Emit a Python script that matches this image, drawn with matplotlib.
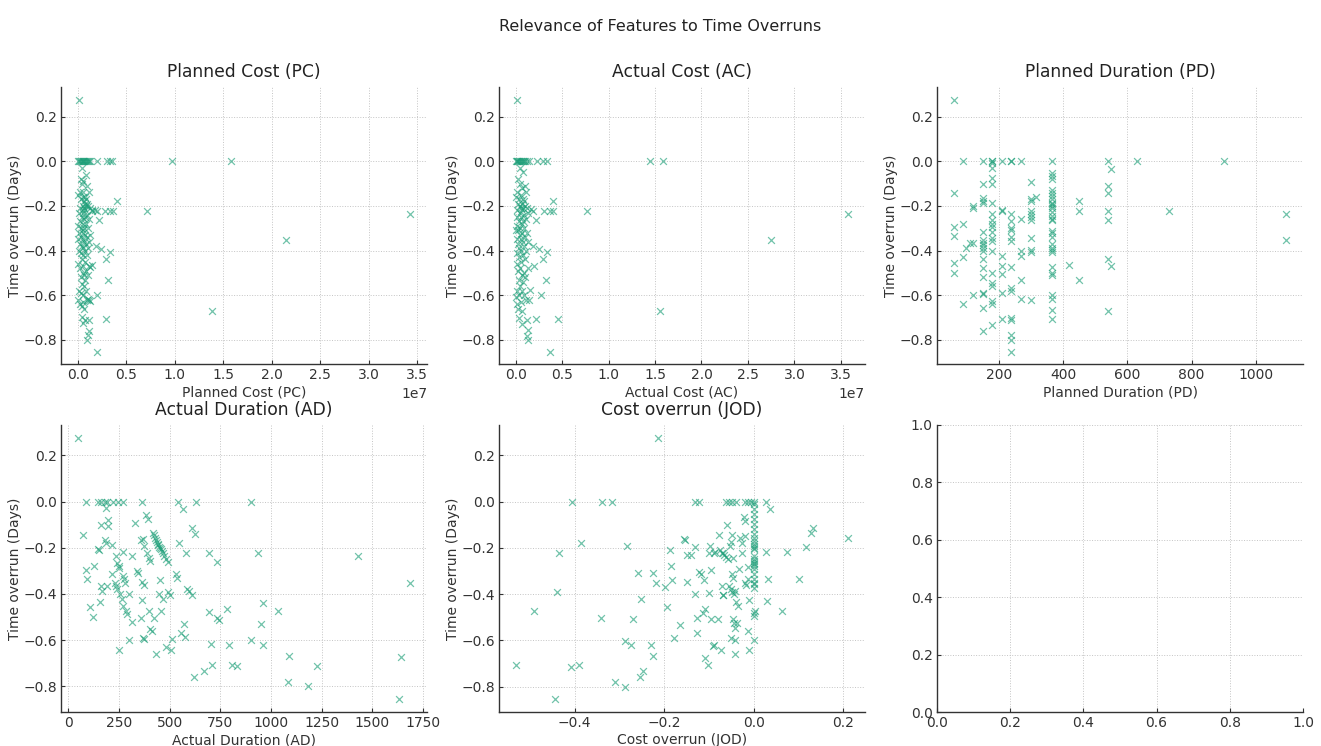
import matplotlib
matplotlib.use("Agg")
import matplotlib.pyplot as plt

# ---------------- data ----------------
suptitle = "Relevance of Features to Time Overruns"
panel_titles = ["Planned Cost (PC)", "Actual Cost (AC)", "Planned Duration (PD)",
                "Actual Duration (AD)", "Cost overrun (JOD)"]
y_label = "Time overrun (Days)"

# Planned Cost (PC) vs time overrun
pc_points = [
    (0.017e7, 0.276),
    (0.00e7, 0), (0.01e7, 0), (0.02e7, 0), (0.03e7, 0), (0.04e7, 0), (0.05e7, 0), (0.06e7, 0),
    (0.07e7, 0), (0.08e7, 0), (0.09e7, 0), (0.10e7, 0), (0.11e7, 0), (0.12e7, 0), (0.13e7, 0),
    (0.20e7, 0), (0.30e7, 0), (0.33e7, 0), (0.35e7, 0), (0.97e7, 0), (1.58e7, 0),
    (0.405e7, -0.178), (0.718e7, -0.222), (3.43e7, -0.238), (2.15e7, -0.352), (1.38e7, -0.673),
    (0.20e7, -0.853), (0.289e7, -0.708), (0.31e7, -0.53), (0.296e7, -0.44), (0.33e7, -0.406),
    (0.244e7, -0.393), (0.19e7, -0.381), (0.223e7, -0.263), (0.20e7, -0.222), (0.28e7, -0.222),
    (0.33e7, -0.222), (0.364e7, -0.222), (0.175e7, -0.22), (0.148e7, -0.222), (0.20e7, -0.60),
    (0.103e7, -0.777), (0.113e7, -0.76), (0.096e7, -0.80), (0.08e7, -0.712), (0.113e7, -0.709),
    (0.055e7, -0.726), (0.045e7, -0.698), (0.124e7, -0.625), (0.103e7, -0.618), (0.148e7, -0.466),
    (0.13e7, -0.474),
    (0.04e7, -0.03), (0.09e7, -0.06), (0.03e7, -0.08), (0.06e7, -0.09), (0.04e7, -0.10),
    (0.10e7, -0.11), (0.02e7, -0.14), (0.06e7, -0.14), (0.12e7, -0.14), (0.00e7, -0.15),
    (0.05e7, -0.16), (0.08e7, -0.16), (0.09e7, -0.17), (0.03e7, -0.17), (0.07e7, -0.18),
    (0.08e7, -0.19), (0.10e7, -0.19), (0.06e7, -0.20), (0.09e7, -0.20), (0.11e7, -0.20),
    (0.02e7, -0.21), (0.07e7, -0.21), (0.13e7, -0.21), (0.05e7, -0.22), (0.08e7, -0.22),
    (0.15e7, -0.22), (0.01e7, -0.23), (0.06e7, -0.23), (0.10e7, -0.24), (0.04e7, -0.25),
    (0.08e7, -0.25), (0.07e7, -0.26), (0.12e7, -0.26), (0.02e7, -0.27), (0.05e7, -0.28),
    (0.09e7, -0.28), (0.00e7, -0.29), (0.03e7, -0.30), (0.07e7, -0.30), (0.11e7, -0.30),
    (0.05e7, -0.31), (0.01e7, -0.32), (0.06e7, -0.32), (0.08e7, -0.33), (0.13e7, -0.33),
    (0.03e7, -0.34), (0.10e7, -0.34), (0.00e7, -0.35), (0.05e7, -0.35), (0.07e7, -0.36),
    (0.12e7, -0.36), (0.02e7, -0.37), (0.09e7, -0.37), (0.04e7, -0.38), (0.06e7, -0.39),
    (0.11e7, -0.39), (0.01e7, -0.40), (0.08e7, -0.40), (0.03e7, -0.41), (0.06e7, -0.42),
    (0.10e7, -0.42), (0.04e7, -0.44), (0.08e7, -0.45), (0.00e7, -0.46), (0.05e7, -0.47),
    (0.12e7, -0.47), (0.02e7, -0.48), (0.09e7, -0.49), (0.06e7, -0.50), (0.07e7, -0.51),
    (0.11e7, -0.51), (0.03e7, -0.52), (0.08e7, -0.53), (0.04e7, -0.55), (0.07e7, -0.56),
    (0.01e7, -0.58), (0.09e7, -0.58), (0.03e7, -0.59), (0.06e7, -0.60), (0.00e7, -0.62),
    (0.05e7, -0.63), (0.10e7, -0.62), (0.02e7, -0.64), (0.04e7, -0.65), (0.07e7, -0.66),
    (0.12e7, -0.62),
]

# Actual Cost (AC) vs time overrun
ac_points = [
    (0.014e7, 0.276),
    (0.00e7, 0), (0.01e7, 0), (0.02e7, 0), (0.03e7, 0), (0.04e7, 0), (0.05e7, 0), (0.06e7, 0),
    (0.07e7, 0), (0.08e7, 0), (0.09e7, 0), (0.10e7, 0), (0.12e7, 0), (0.14e7, 0), (0.23e7, 0),
    (0.30e7, 0), (0.34e7, 0), (1.446e7, 0), (1.59e7, 0),
    (0.40e7, -0.178), (0.31e7, -0.222), (0.37e7, -0.222), (0.40e7, -0.222), (0.17e7, -0.215),
    (0.19e7, -0.225), (0.22e7, -0.264), (0.77e7, -0.222), (3.58e7, -0.238), (2.75e7, -0.352),
    (1.55e7, -0.673), (0.37e7, -0.853), (0.457e7, -0.708), (0.223e7, -0.705), (0.324e7, -0.53),
    (0.30e7, -0.44), (0.338e7, -0.406), (0.248e7, -0.393), (0.187e7, -0.381), (0.27e7, -0.60),
    (0.20e7, -0.468), (0.15e7, -0.575), (0.144e7, -0.62), (0.12e7, -0.712), (0.133e7, -0.755),
    (0.12e7, -0.784), (0.133e7, -0.80), (0.04e7, -0.70), (0.07e7, -0.73), (0.02e7, -0.64),
    (0.05e7, -0.03), (0.08e7, -0.05), (0.03e7, -0.08), (0.05e7, -0.10), (0.07e7, -0.12),
    (0.10e7, -0.11), (0.01e7, -0.14), (0.06e7, -0.15), (0.11e7, -0.14), (0.00e7, -0.16),
    (0.04e7, -0.17), (0.08e7, -0.17), (0.09e7, -0.18), (0.03e7, -0.19), (0.07e7, -0.19),
    (0.05e7, -0.20), (0.10e7, -0.20), (0.06e7, -0.21), (0.08e7, -0.21), (0.12e7, -0.21),
    (0.02e7, -0.22), (0.07e7, -0.22), (0.13e7, -0.23), (0.05e7, -0.23), (0.09e7, -0.24),
    (0.01e7, -0.25), (0.06e7, -0.25), (0.11e7, -0.26), (0.04e7, -0.27), (0.08e7, -0.27),
    (0.07e7, -0.28), (0.02e7, -0.29), (0.05e7, -0.30), (0.09e7, -0.30), (0.00e7, -0.31),
    (0.03e7, -0.31), (0.07e7, -0.32), (0.12e7, -0.32), (0.05e7, -0.33), (0.10e7, -0.34),
    (0.01e7, -0.35), (0.06e7, -0.35), (0.08e7, -0.36), (0.13e7, -0.36), (0.03e7, -0.37),
    (0.09e7, -0.38), (0.04e7, -0.39), (0.06e7, -0.40), (0.11e7, -0.40), (0.02e7, -0.41),
    (0.08e7, -0.42), (0.04e7, -0.43), (0.06e7, -0.45), (0.10e7, -0.44), (0.01e7, -0.46),
    (0.05e7, -0.48), (0.13e7, -0.48), (0.03e7, -0.49), (0.09e7, -0.50), (0.07e7, -0.51),
    (0.10e7, -0.52), (0.04e7, -0.53), (0.08e7, -0.54), (0.05e7, -0.56), (0.02e7, -0.58),
    (0.07e7, -0.58), (0.09e7, -0.60), (0.04e7, -0.60), (0.00e7, -0.61), (0.06e7, -0.63),
    (0.11e7, -0.62), (0.03e7, -0.66), (0.07e7, -0.67),
]

# Planned Duration (PD) vs time overrun
pd_points = [
    (60, 0.276), (60, -0.143), (60, -0.295), (60, -0.334), (60, -0.456), (60, -0.50),
    (90, 0), (90, -0.28), (90, -0.429), (90, -0.64), (100, -0.39), (110, -0.365),
    (120, -0.202), (120, -0.21), (120, -0.368), (120, -0.598),
    (150, 0), (150, -0.103), (150, -0.166), (150, -0.178), (150, -0.186), (150, -0.315),
    (150, -0.351), (150, -0.365), (150, -0.377), (150, -0.387), (150, -0.401), (150, -0.437),
    (150, -0.478), (150, -0.52), (150, -0.589), (150, -0.595), (150, -0.657), (150, -0.76),
    (180, 0), (180, 0), (180, -0.01), (180, -0.03), (180, -0.077), (180, -0.104), (180, -0.185),
    (180, -0.235), (180, -0.264), (180, -0.28), (180, -0.293), (180, -0.315), (180, -0.344),
    (180, -0.358), (180, -0.401), (180, -0.50), (180, -0.546), (180, -0.557), (180, -0.625),
    (180, -0.64), (180, -0.733),
    (210, 0), (210, -0.218), (210, -0.225), (210, -0.426), (210, -0.471), (210, -0.503),
    (210, -0.59), (210, -0.706),
    (240, 0), (240, 0), (240, -0.235), (240, -0.27), (240, -0.30), (240, -0.31), (240, -0.34),
    (240, -0.358), (240, -0.475), (240, -0.566), (240, -0.583), (240, -0.70), (240, -0.713),
    (240, -0.78), (240, -0.80), (240, -0.853),
    (270, 0), (270, -0.261), (270, -0.401), (270, -0.423), (270, -0.53), (270, -0.618),
    (300, -0.092), (300, -0.17), (300, -0.179), (300, -0.221), (300, -0.235), (300, -0.25),
    (300, -0.263), (300, -0.344), (300, -0.397), (300, -0.408), (300, -0.621), (315, -0.16),
    (365, 0), (365, -0.052), (365, -0.066), (365, -0.081), (365, -0.13), (365, -0.144),
    (365, -0.156), (365, -0.17), (365, -0.185), (365, -0.192), (365, -0.199), (365, -0.211),
    (365, -0.228), (365, -0.245), (365, -0.257), (365, -0.264), (365, -0.312), (365, -0.322),
    (365, -0.34), (365, -0.373), (365, -0.387), (365, -0.399), (365, -0.408), (365, -0.476),
    (365, -0.50), (365, -0.51), (365, -0.598), (365, -0.618), (365, -0.667), (365, -0.708),
    (420, -0.464), (450, -0.178), (450, -0.225), (450, -0.53),
    (540, 0), (540, -0.113), (540, -0.142), (540, -0.225), (540, -0.264), (540, -0.439),
    (540, -0.673), (550, -0.035), (550, -0.471), (630, 0), (731, -0.222), (900, 0),
    (1095, -0.238), (1095, -0.352),
]

# Actual Duration (AD) vs time overrun
ad_points = [
    (46, 0.275), (71, -0.143), (87, 0), (86, -0.295), (90, -0.336), (109, -0.456), (120, -0.502),
    (125, -0.279), (145, 0), (161, 0), (181, 0), (193, 0), (219, 0), (247, 0), (272, 0),
    (186, -0.027), (161, -0.10), (194, -0.08), (197, -0.104), (183, -0.166), (186, -0.181),
    (148, -0.204), (153, -0.211), (217, -0.188), (160, -0.367), (165, -0.388), (189, -0.366),
    (158, -0.433), (217, -0.315), (230, -0.352), (235, -0.366), (242, -0.38), (234, -0.236),
    (239, -0.265), (249, -0.279), (250, -0.288), (268, -0.218), (272, -0.323), (275, -0.337),
    (280, -0.352), (255, -0.402), (263, -0.424), (272, -0.453), (285, -0.474), (290, -0.485),
    (250, -0.642), (300, -0.60), (301, -0.402), (316, -0.522), (313, -0.236), (329, -0.094),
    (337, -0.301), (344, -0.308), (364, 0), (357, -0.168), (367, -0.16), (372, -0.194),
    (362, -0.349), (375, -0.363), (362, -0.427), (360, -0.503), (367, -0.593), (374, -0.597),
    (384, -0.059), (393, -0.077), (387, -0.221), (397, -0.243), (402, -0.257), (397, -0.473),
    (403, -0.554), (412, -0.56), (421, -0.506), (433, -0.66),
    (416, -0.135), (423, -0.146), (428, -0.156), (433, -0.166), (436, -0.175), (441, -0.182),
    (444, -0.19), (449, -0.195), (453, -0.201), (456, -0.207), (461, -0.214), (466, -0.224),
    (474, -0.236), (482, -0.25), (490, -0.262),
    (453, -0.341), (449, -0.402), (466, -0.421), (458, -0.476), (481, -0.631), (505, -0.645),
    (494, -0.393), (502, -0.405), (510, -0.595), (540, 0), (568, -0.033), (546, -0.178),
    (532, -0.312), (536, -0.33), (555, -0.569), (571, -0.529), (578, -0.587), (579, -0.224),
    (584, -0.378), (594, -0.388), (609, -0.404), (630, 0), (609, -0.113), (627, -0.14),
    (622, -0.761), (668, -0.735), (696, -0.479), (695, -0.224), (732, -0.263), (736, -0.503),
    (746, -0.511), (706, -0.619), (709, -0.706), (782, -0.464), (792, -0.622), (810, -0.706),
    (835, -0.713), (900, 0), (902, -0.60), (935, -0.221), (961, -0.438), (953, -0.529),
    (963, -0.623), (1035, -0.473), (1091, -0.67), (1086, -0.783), (1185, -0.80),
    (1226, -0.71), (1432, -0.237), (1641, -0.673), (1634, -0.856), (1689, -0.353),
]

# Cost overrun (JOD) vs time overrun
jod_points = [
    (-0.215, 0.275), (-0.532, -0.707), (-0.49, -0.472), (-0.445, -0.855), (-0.407, 0),
    (-0.434, -0.221), (-0.44, -0.392), (-0.387, -0.181), (-0.409, -0.715), (-0.39, -0.709),
    (-0.34, 0), (-0.316, 0), (-0.342, -0.502), (-0.311, -0.78), (-0.288, -0.80),
    (-0.284, -0.19), (-0.287, -0.602), (-0.275, -0.619), (-0.269, -0.509), (-0.259, -0.311),
    (-0.251, -0.422), (-0.247, -0.735), (-0.254, -0.761), (-0.23, -0.622), (-0.225, -0.667),
    (-0.225, -0.308), (-0.219, -0.352), (-0.199, -0.37), (-0.195, -0.456), (-0.187, -0.211),
    (-0.186, -0.279), (-0.183, -0.34), (-0.178, -0.59), (-0.165, -0.532), (-0.156, -0.163),
    (-0.153, -0.168), (-0.149, -0.347), (-0.149, -0.233), (-0.141, -0.233), (-0.131, 0),
    (-0.122, 0), (-0.132, -0.195), (-0.131, -0.399), (-0.128, -0.502), (-0.128, -0.569),
    (-0.122, -0.304), (-0.118, -0.315), (-0.112, -0.337), (-0.11, -0.464), (-0.113, -0.481),
    (-0.11, -0.676), (-0.103, -0.707), (-0.099, -0.191), (-0.101, -0.224), (-0.096, -0.294),
    (-0.101, -0.395), (-0.096, -0.509), (-0.092, -0.626), (-0.089, -0.62), (-0.09, -0.224),
    (-0.086, -0.218), (-0.079, -0.506), (-0.077, -0.146), (-0.075, -0.211), (-0.072, -0.224),
    (-0.069, -0.221), (-0.066, -0.23), (-0.063, -0.241), (-0.074, -0.641), (-0.072, -0.366),
    (-0.069, -0.402), (-0.068, -0.405), (-0.062, 0), (-0.056, 0), (-0.049, 0), (-0.04, 0),
    (-0.06, -0.103), (-0.054, -0.191), (-0.05, -0.175), (-0.048, -0.146), (-0.057, -0.25),
    (-0.046, -0.243), (-0.056, -0.366), (-0.051, -0.38), (-0.049, -0.392), (-0.049, -0.312),
    (-0.046, -0.33), (-0.044, -0.399), (-0.046, -0.508), (-0.044, -0.525), (-0.043, -0.547),
    (-0.051, -0.59), (-0.042, -0.597), (-0.043, -0.658), (-0.04, -0.435), (-0.036, -0.451),
    (-0.037, -0.524), (-0.041, -0.385), (-0.034, -0.291), (-0.031, -0.156), (-0.026, -0.178),
    (-0.027, -0.221), (-0.023, -0.065), (-0.019, -0.085), (-0.019, -0.149), (-0.02, 0),
    (-0.012, 0), (-0.006, 0), (-0.019, -0.352), (-0.017, -0.359), (-0.014, -0.334),
    (-0.013, -0.285), (-0.01, -0.424), (-0.012, -0.561), (-0.01, -0.641),
    (0.0, 0), (0.0, -0.012), (0.0, -0.033), (0.0, -0.055), (0.0, -0.077), (0.0, -0.098),
    (0.0, -0.12), (0.0, -0.141), (0.0, -0.156), (0.0, -0.17), (0.0, -0.185), (0.0, -0.192),
    (0.0, -0.199), (0.0, -0.207), (0.0, -0.236), (0.0, -0.25), (0.0, -0.257), (0.0, -0.264),
    (0.0, -0.271), (0.0, -0.279), (0.0, -0.293), (0.0, -0.315), (0.0, -0.336), (0.0, -0.35),
    (0.0, -0.357), (0.0, -0.372), (0.0, -0.48), (0.0, -0.497), (0.0, -0.60),
    (0.002, -0.474), (0.028, 0), (0.037, -0.033), (0.027, -0.218), (0.031, -0.334),
    (0.03, -0.431), (0.075, -0.218), (0.063, -0.472), (0.1, -0.334), (0.117, -0.197),
    (0.128, -0.135), (0.131, -0.114), (0.211, -0.156),
]

panel_points = [pc_points, ac_points, pd_points, ad_points, jod_points]

# ---------------- style ----------------
plt.rcParams['font.family'] = ['DejaVu Sans']
TEXT = '#333333'
MARK = '#1b9e77'

fig = plt.figure(figsize=(13.21, 7.46), dpi=100)

col_left = [0.0462, 0.3777, 0.7093]
width = 0.2771
row_bottom = [0.5117, 0.0452]
row_height = [0.3717, 0.3851]

axes = []
for r in range(2):
    for c in range(3):
        ax = fig.add_axes([col_left[c], row_bottom[r], width, row_height[r]])
        axes.append(ax)

for i, ax in enumerate(axes):
    ax.set_axisbelow(True)
    ax.grid(True, linestyle=':', color='#c4c4c4', linewidth=0.7)
    for s in ['top', 'right']:
        ax.spines[s].set_visible(False)
    for s in ['left', 'bottom']:
        ax.spines[s].set_color('#333333')
        ax.spines[s].set_linewidth(1.0)
    ax.tick_params(direction='in', length=3, width=0.8, colors=TEXT, labelsize=10, pad=3)
    if i < 5:
        pts = panel_points[i]
        xs = [p[0] for p in pts]
        ys = [p[1] for p in pts]
        ax.scatter(xs, ys, marker='x', s=24, color=MARK, alpha=0.62, linewidths=0.9)
        ax.set_title(panel_titles[i], fontsize=12.3, color='#222222', pad=7)
        ax.set_xlabel(panel_titles[i], fontsize=10, color=TEXT, labelpad=2)
        ax.set_ylabel(y_label, fontsize=10, color=TEXT, labelpad=1)
        ax.xaxis.get_offset_text().set_color(TEXT)
        ax.xaxis.get_offset_text().set_fontsize(10)

fig.suptitle(suptitle, fontsize=11.5, color='#222222', y=0.975)

fig.savefig('out.png', dpi=100)
